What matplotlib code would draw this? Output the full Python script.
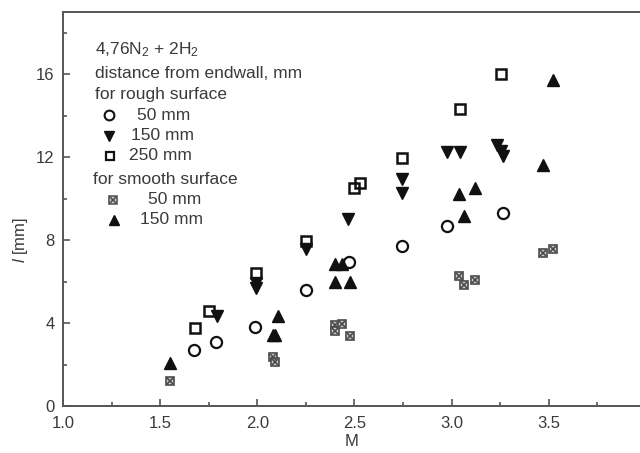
import matplotlib
matplotlib.use('Agg')
import matplotlib.pyplot as plt

plt.rcParams['font.family'] = ['Liberation Sans', 'DejaVu Sans']
plt.rcParams['mathtext.fontset'] = 'custom'
plt.rcParams['mathtext.rm'] = 'Liberation Sans'
plt.rcParams['mathtext.it'] = 'Liberation Sans:italic'
plt.rcParams['mathtext.default'] = 'regular'

# ---- data ----
rough50_x = [1.675, 1.785, 1.99, 2.25, 2.47, 2.745, 2.975, 3.265]
rough50_y = [2.7, 3.1, 3.8, 5.6, 6.95, 7.7, 8.7, 9.3]

rough150_x = [1.79, 1.993, 1.993, 2.25, 2.465, 2.746, 2.746, 2.974, 3.043, 3.235, 3.256, 3.266]
rough150_y = [4.34, 5.95, 5.7, 7.55, 9.0, 10.93, 10.28, 12.26, 12.26, 12.58, 12.3, 12.05]

rough250_x = [1.677, 1.75, 1.993, 2.25, 2.5, 2.527, 2.746, 3.043, 3.256]
rough250_y = [3.74, 4.6, 6.43, 7.97, 10.49, 10.73, 11.94, 14.3, 16.03]

smooth50_x = [1.552, 2.08, 2.093, 2.402, 2.402, 2.437, 2.476, 3.038, 3.064, 3.119, 3.47, 3.52]
smooth50_y = [1.2, 2.35, 2.14, 3.9, 3.6, 3.95, 3.37, 6.27, 5.83, 6.1, 7.36, 7.55]

smooth150_x = [1.552, 2.079, 2.093, 2.107, 2.402, 2.437, 2.402, 2.476, 3.038, 3.119, 3.064, 3.47, 3.524]
smooth150_y = [2.06, 3.42, 3.42, 4.34, 6.83, 6.83, 5.99, 5.99, 10.2, 10.52, 9.16, 11.61, 15.71]

x_major = [1.0, 1.5, 2.0, 2.5, 3.0, 3.5]
x_minor = [1.25, 1.75, 2.25, 2.75, 3.25, 3.75]
y_major = [0, 4, 8, 12, 16]
y_minor = [2, 6, 10, 14, 18]

TXT = '#3a3a3a'
SPINE = '#555555'
MK = '#111111'
GRAYMK = '#4a4a4a'
FS = 12.5

fig = plt.figure(figsize=(6.4, 4.53), dpi=100)
L, R, B, T = 63, 646, 406, 12
ax = fig.add_axes([L / 640, 1 - B / 453, (R - L) / 640, (B - T) / 453])
ax.set_xlim(1.0, 4.0)
ax.set_ylim(0, 19)

ax.plot(rough50_x, rough50_y, 'o', ms=8, mfc='none', mec=MK, mew=1.6, ls='none')
ax.plot(rough150_x, rough150_y, 'v', ms=8.5, mfc=MK, mec=MK, ls='none')
ax.plot(rough250_x, rough250_y, 's', ms=7, mfc='none', mec=MK, mew=1.8, ls='none')
ax.plot(smooth50_x, smooth50_y, 's', ms=6, mfc='#cfcfcf', mec=GRAYMK, mew=1.2, ls='none')
ax.plot(smooth50_x, smooth50_y, 'x', ms=4.5, mec=GRAYMK, mew=1.2, ls='none')
ax.plot(smooth150_x, smooth150_y, '^', ms=8.5, mfc=MK, mec=MK, ls='none')

# spines & ticks
for s in ['left', 'bottom', 'top', 'right']:
    ax.spines[s].set_color(SPINE)
    ax.spines[s].set_linewidth(1.4)
ax.set_xticks(x_major)
ax.set_xticks(x_minor, minor=True)
ax.set_yticks(y_major)
ax.set_yticks(y_minor, minor=True)
ax.set_xticklabels([f'{v:.1f}' for v in x_major])
ax.tick_params(axis='both', which='major', direction='in', length=5, width=1.2,
               color=SPINE, labelsize=12, labelcolor=TXT)
ax.tick_params(axis='both', which='minor', direction='in', length=3, width=1.2, color=SPINE)
ax.tick_params(axis='x', pad=7)
ax.tick_params(axis='y', pad=6)

ax.set_xlabel('M', fontsize=12, color=TXT)
ax.set_ylabel(r'$\mathit{l}$ [mm]', fontsize=12, color=TXT)
ax.xaxis.set_label_coords((352 - L) / (R - L), (B - 441) / (B - T))
ax.yaxis.set_label_coords((20 - L) / (R - L), (B - 240) / (B - T))
ax.xaxis.label.set_va('center')
ax.yaxis.label.set_va('center')

# legend block (manual)
def fx(px):
    return (px - L) / (R - L)

def fy(py):
    return (B - py) / (B - T)

tk = dict(transform=ax.transAxes, fontsize=FS, color=TXT, va='center', ha='left')
ax.text(fx(95), fy(50), r'4,76N$_2$ + 2H$_2$', **tk)
ax.text(fx(95), fy(74), 'distance from endwall, mm', **tk)
ax.text(fx(95), fy(94), 'for rough surface', **tk)
ax.text(fx(137), fy(115), '50 mm', **tk)
ax.text(fx(131), fy(136), '150 mm', **tk)
ax.text(fx(129), fy(156), '250 mm', **tk)
ax.text(fx(93), fy(179), 'for smooth surface', **tk)
ax.text(fx(148), fy(200), '50 mm', **tk)
ax.text(fx(140), fy(220), '150 mm', **tk)

mt = dict(transform=ax.transAxes, clip_on=False, ls='none')
ax.plot([fx(109)], [fy(115)], 'o', ms=7, mfc='none', mec=MK, mew=1.5, **mt)
ax.plot([fx(109)], [fy(136)], 'v', ms=7.5, mfc=MK, mec=MK, **mt)
ax.plot([fx(110)], [fy(156)], 's', ms=6, mfc='none', mec=MK, mew=1.6, **mt)
ax.plot([fx(113)], [fy(200)], 's', ms=5.5, mfc='#cfcfcf', mec=GRAYMK, mew=1.1, **mt)
ax.plot([fx(113)], [fy(200)], 'x', ms=4, mec=GRAYMK, mew=1.1, **mt)
ax.plot([fx(114)], [fy(220)], '^', ms=7.5, mfc=MK, mec=MK, **mt)

fig.savefig('out.png', dpi=100)
